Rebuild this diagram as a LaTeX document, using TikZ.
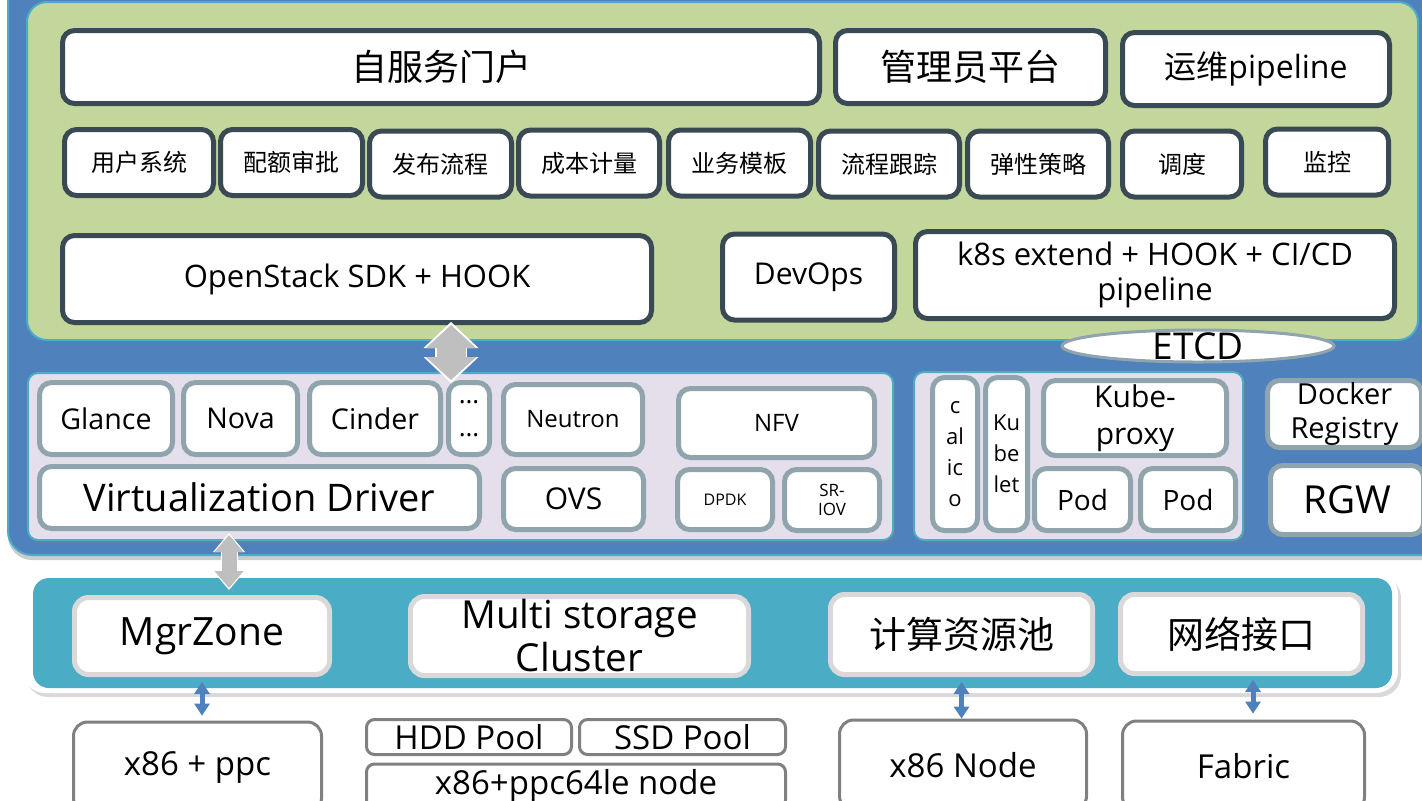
\documentclass[tikz,border=0pt]{standalone}
\usepackage{fontspec}
\setmainfont{Open Sans}
\newfontfamily\cjk{Noto Sans CJK SC}
\usetikzlibrary{arrows.meta,shapes.geometric,shadows}

\definecolor{panelblue}{HTML}{4F81BD}
\definecolor{cyanline}{HTML}{4BACC6}
\definecolor{leaf}{HTML}{C3D69B}
\definecolor{slate}{HTML}{3A4A54}
\definecolor{lavender}{HTML}{E5DFEC}
\definecolor{steelgrey}{HTML}{8FA4AD}
\definecolor{lightgrey}{HTML}{D9D9D9}
\definecolor{midgrey}{HTML}{808080}
\definecolor{arrowgrey}{HTML}{BFBFBF}

\begin{document}
\begin{tikzpicture}[x=0.5pt,y=-0.5pt,
    topbox/.style={draw=slate,line width=2.5pt,fill=white,rounded corners=6pt,inner sep=0pt,align=center},
    osbox/.style={draw=steelgrey,line width=2.5pt,fill=white,rounded corners=6pt,inner sep=0pt,align=center},
    zonebox/.style={draw=lightgrey,line width=2.5pt,fill=white,rounded corners=7pt,inner sep=0pt,align=center},
    hwbox/.style={draw=midgrey,line width=1.5pt,fill=white,rounded corners=7pt,inner sep=0pt,align=center},
    panel/.style={draw=cyanline,line width=1pt,fill=lavender,rounded corners=5pt,
        drop shadow={opacity=0.35,shadow xshift=1pt,shadow yshift=-1.5pt}},
    grayarrowbg/.style={draw=white,line width=16pt,
        {Triangle[width=27.5pt,length=13pt,line width=0pt]}-{Triangle[width=27.5pt,length=13pt,line width=0pt]}},
    grayarrow/.style={draw=arrowgrey,line width=14.5pt,
        {Triangle[width=25pt,length=11.5pt,line width=0pt]}-{Triangle[width=25pt,length=11.5pt,line width=0pt]}},
    smallarrowbg/.style={draw=white,line width=8.5pt,
        {Triangle[width=16pt,length=9.5pt,line width=0pt]}-{Triangle[width=16pt,length=9.5pt,line width=0pt]}},
    smallarrow/.style={draw=arrowgrey,line width=7.5pt,
        {Triangle[width=14.5pt,length=8.5pt,line width=0pt]}-{Triangle[width=14.5pt,length=8.5pt,line width=0pt]}},
    bluearrow/.style={draw=panelblue,line width=2.5pt,
        {Triangle[width=8pt,length=6pt,line width=0pt]}-{Triangle[width=8pt,length=6pt,line width=0pt]}}]

  \useasboundingbox (0,0) rectangle (1422,800);
  \clip (0,0) rectangle (1422,800);

  % Background panels
  \draw[fill=panelblue,draw=cyanline,line width=1pt,rounded corners=12pt,
      drop shadow={opacity=0.4,shadow xshift=0pt,shadow yshift=-2.5pt}] (8,-40) rectangle (1460,555);
  \draw[fill=leaf,draw=cyanline,line width=1pt,rounded corners=10pt] (27,2) rectangle (1418,340);

  % Portal row
  \node[topbox,minimum width=378.5pt,minimum height=36.5pt,font=\fontsize{18}{22}\selectfont\cjk] (portal) at (441,67) {自服务门户};
  \node[topbox,minimum width=135pt,minimum height=36.5pt,font=\fontsize{18}{22}\selectfont\cjk] (admin) at (970.5,67) {管理员平台};
  \node[topbox,minimum width=133.5pt,minimum height=36.5pt,font=\fontsize{16}{20}\selectfont] (opspipe) at (1256,69) {{\cjk 运维}pipeline};

  % Function row
  \node[topbox,minimum width=74.5pt,minimum height=33pt,font=\fontsize{12}{14}\selectfont\cjk] (users) at (139,162.5) {用户系统};
  \node[topbox,minimum width=71pt,minimum height=33pt,font=\fontsize{12}{14}\selectfont\cjk] (quota) at (291.5,162.5) {配额审批};
  \node[topbox,minimum width=71pt,minimum height=33pt,font=\fontsize{12}{14}\selectfont\cjk] (release) at (440.5,164) {发布流程};
  \node[topbox,minimum width=70.5pt,minimum height=33pt,font=\fontsize{12}{14}\selectfont\cjk] (cost) at (589,163) {成本计量};
  \node[topbox,minimum width=71pt,minimum height=33pt,font=\fontsize{12}{14}\selectfont\cjk] (template) at (739.5,163) {业务模板};
  \node[topbox,minimum width=70.5pt,minimum height=33pt,font=\fontsize{12}{14}\selectfont\cjk] (trace) at (889,164) {流程跟踪};
  \node[topbox,minimum width=70.5pt,minimum height=33pt,font=\fontsize{12}{14}\selectfont\cjk] (elastic) at (1038,164) {弹性策略};
  \node[topbox,minimum width=59.5pt,minimum height=33pt,font=\fontsize{12}{14}\selectfont\cjk] (sched) at (1182,164) {调度};
  \node[topbox,minimum width=61.5pt,minimum height=33pt,font=\fontsize{12}{14}\selectfont\cjk] (monitor) at (1327,162) {监控};

  % SDK row
  \node[topbox,minimum width=294.5pt,minimum height=43.5pt,font=\fontsize{15.5}{18}\selectfont] (sdk) at (357,279) {OpenStack SDK + HOOK};
  \node[topbox,minimum width=86pt,minimum height=43pt,font=\fontsize{15}{18}\selectfont] (devops) at (808.5,277) {DevOps};
  \node[topbox,minimum width=239.5pt,minimum height=43.5pt,font=\fontsize{15.5}{17.5}\selectfont] (k8sext) at (1155,275) {k8s extend + HOOK + CI/CD\\pipeline};

  % ETCD
  \node[ellipse,draw=steelgrey,line width=1.5pt,fill=white,minimum width=136pt,minimum height=16pt,inner sep=0pt,
      label={[font=\fontsize{18.5}{20}\selectfont,inner sep=0pt]center:ETCD}] (etcd) at (1198,346) {};

  % OpenStack services
  \draw[panel] (28,373) rectangle (893,540);
  \node[osbox,minimum width=66.5pt,minimum height=36pt,font=\fontsize{14.3}{17}\selectfont] (glance) at (106,418.5) {Glance};
  \node[osbox,minimum width=57pt,minimum height=36pt,font=\fontsize{14.3}{17}\selectfont] (nova) at (240.5,418.5) {Nova};
  \node[osbox,minimum width=65.5pt,minimum height=36pt,font=\fontsize{14.3}{17}\selectfont] (cinder) at (375,418.5) {Cinder};
  \node[osbox,minimum width=20.5pt,minimum height=36pt,font=\fontsize{13}{16.5}\selectfont] (more) at (469,418.5) {…\\…};
  \node[osbox,minimum width=220pt,minimum height=31pt,font=\fontsize{19}{22}\selectfont] (virt) at (259.5,497.5) {Virtualization Driver};
  \node[osbox,minimum width=69.5pt,minimum height=35pt,font=\fontsize{12}{14}\selectfont] (neutron) at (573,419.5) {Neutron};
  \node[osbox,minimum width=70pt,minimum height=30.5pt,font=\fontsize{15}{18}\selectfont] (ovs) at (573.5,499) {OVS};
  \node[osbox,minimum width=98pt,minimum height=34.5pt,font=\fontsize{12}{14}\selectfont] (nfv) at (776.5,423) {NFV};
  \node[osbox,minimum width=47.5pt,minimum height=30pt,font=\fontsize{8}{10}\selectfont] (dpdk) at (725,499.5) {DPDK};
  \node[osbox,minimum width=47.5pt,minimum height=30.5pt,font=\fontsize{8.5}{9.5}\selectfont] (sriov) at (832,500) {SR-\\IOV};

  % Kubernetes node
  \draw[panel] (914,372) rectangle (1243,540);
  \node[osbox,minimum width=22.5pt,minimum height=76.5pt,font=\fontsize{11}{15.5}\selectfont] (calico) at (955,454) {c\\al\\ic\\o};
  \node[osbox,minimum width=21pt,minimum height=76.5pt,font=\fontsize{11}{15.5}\selectfont] (kubelet) at (1006.5,454) {Ku\\be\\let};
  \node[osbox,minimum width=91.5pt,minimum height=37.5pt,font=\fontsize{15}{18.5}\selectfont] (kubeproxy) at (1135,418) {Kube-\\proxy};
  \node[osbox,minimum width=48pt,minimum height=31pt,font=\fontsize{14}{17}\selectfont] (podA) at (1082.5,499.5) {Pod};
  \node[osbox,minimum width=47.5pt,minimum height=31pt,font=\fontsize{14}{17}\selectfont] (podB) at (1188,499.5) {Pod};

  % Registry and gateway
  \node[osbox,minimum width=77pt,minimum height=33.5pt,font=\fontsize{14.5}{17}\selectfont] (docker) at (1344.5,414) {Docker\\Registry};
  \node[osbox,minimum width=76.5pt,minimum height=34.5pt,font=\fontsize{19.3}{22}\selectfont] (rgw) at (1347,500) {RGW};

  % Resource layer
  \fill[white,rounded corners=11pt,
      drop shadow={opacity=0.3,shadow xshift=1.5pt,shadow yshift=-2pt}] (23,572) rectangle (1398,693);
  \fill[cyanline,rounded corners=8pt] (33,578) rectangle (1392,688);
  \node[zonebox,minimum width=127.5pt,minimum height=38.5pt,font=\fontsize{19.5}{22}\selectfont] (mgr) at (202,636) {MgrZone};
  \node[zonebox,minimum width=169pt,minimum height=39.5pt,font=\fontsize{19.3}{21.5}\selectfont] (storage) at (579.5,636) {Multi storage\\Cluster};
  \node[zonebox,minimum width=131pt,minimum height=40pt,font=\fontsize{18.5}{22}\selectfont\cjk] (compute) at (961.5,634.5) {计算资源池};
  \node[zonebox,minimum width=121pt,minimum height=39.5pt,font=\fontsize{18.5}{22}\selectfont\cjk] (netif) at (1241.5,634) {网络接口};

  % Hardware
  \node[hwbox,minimum width=124pt,minimum height=45pt,font=\fontsize{16.5}{20}\selectfont] (x86ppc) at (197.5,767) {x86 + ppc};
  \node[hwbox,minimum width=102.5pt,minimum height=17.5pt,rounded corners=4pt,font=\fontsize{16.5}{20}\selectfont] (hdd) at (469,737) {HDD Pool};
  \node[hwbox,minimum width=103pt,minimum height=17.5pt,rounded corners=4pt,font=\fontsize{16.5}{20}\selectfont] (ssd) at (682.5,737) {SSD Pool};
  \node[hwbox,minimum width=209.5pt,minimum height=22pt,rounded corners=4pt,font=\fontsize{16.5}{20}\selectfont] (ppcnode) at (576,786) {x86+ppc64le node};
  \node[hwbox,minimum width=123.5pt,minimum height=45pt,font=\fontsize{16.5}{20}\selectfont] (x86node) at (963,765) {x86 Node};
  \node[hwbox,minimum width=121pt,minimum height=45pt,font=\fontsize{16.5}{20}\selectfont] (fabric) at (1243.5,766) {Fabric};

  % Connectors
  \coordinate (sdkx) at (451,0);
  \coordinate (virtx) at (229,0);
  \coordinate (netx) at (1253,0);
  \draw[grayarrowbg,shorten <=-1.5pt,shorten >=-1.5pt] (sdk.south -| sdkx) -- (cinder.north -| sdkx);
  \draw[grayarrow] (sdk.south -| sdkx) -- (cinder.north -| sdkx);
  \draw[smallarrowbg,shorten <=1pt,shorten >=2.5pt] (virt.south -| virtx) -- (mgr.north -| virtx);
  \draw[smallarrow,shorten <=2pt,shorten >=3.5pt] (virt.south -| virtx) -- (mgr.north -| virtx);
  \draw[bluearrow,shorten <=2.5pt,shorten >=2.5pt] (mgr.south) -- (mgr.south |- x86ppc.north);
  \draw[bluearrow,shorten <=2.5pt,shorten >=0pt] (compute.south) -- (compute.south |- x86node.north);
  \draw[bluearrow,shorten <=2pt,shorten >=3pt] (netif.south -| netx) -- (fabric.north -| netx);
\end{tikzpicture}
\end{document}
